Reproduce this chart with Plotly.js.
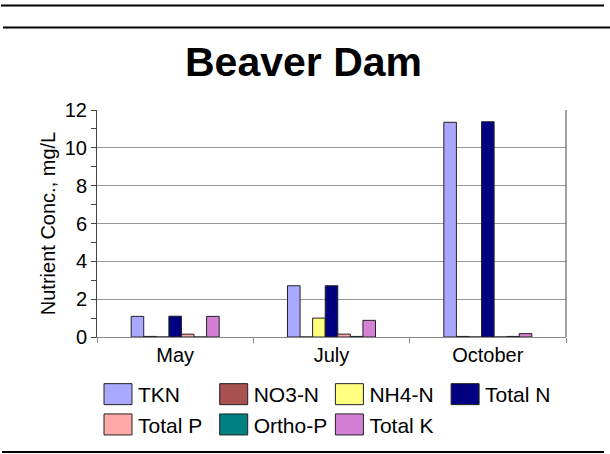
<!DOCTYPE html>
<html>
<head>
<meta charset="utf-8">
<script src="https://cdn.plot.ly/plotly-3.0.1.min.js"></script>
<style>
  html, body { margin: 0; padding: 0; background: #ffffff; }
  #chart { width: 610px; height: 454px; }
</style>
</head>
<body>
<div id="chart"></div>
<script>
// ---- data ----
const months = ["May", "July", "October"];
const seriesNames = ["TKN", "NO3-N", "NH4-N", "Total N", "Total P", "Ortho-P", "Total K"];
const TKN    = [1.09, 2.71, 11.35];
const NO3_N  = [0.03, 0.0, 0.03];
const NH4_N  = [0.0, 1.0, 0.0];
const TotalN = [1.1, 2.71, 11.38];
const TotalP = [0.15, 0.15, 0.0];
const OrthoP = [0.0, 0.03, 0.03];
const TotalK = [1.09, 0.88, 0.18];
const yTicks = [0, 2, 4, 6, 8, 10, 12];

// ---- styling ----
const seriesValues = [TKN, NO3_N, NH4_N, TotalN, TotalP, OrthoP, TotalK];
const seriesColors = ["#A8A8FF", "#A85252", "#FFFF80", "#000080", "#FFA8A8", "#008080", "#D480D4"];
const FONT = "Liberation Sans, Arial, Helvetica, sans-serif";

const W = 610, H = 454;
const M = { l: 97, r: 44, t: 110, b: 117, autoexpand: false };
const pw = W - M.l - M.r, ph = H - M.t - M.b;
const px2x = p => (p - M.l) / pw;
const px2y = p => (H - M.b - p) / ph;

const traces = seriesNames.map((name, i) => ({
  type: "bar",
  name: name,
  x: months,
  y: seriesValues[i],
  marker: { color: seriesColors[i], line: { color: "#222222", width: 1 } },
  hoverinfo: "skip"
}));

function hline(y, x0, x1) {
  return { type: "line", xref: "paper", yref: "paper",
           x0: px2x(x0), x1: px2x(x1), y0: px2y(y), y1: px2y(y),
           line: { color: "#000000", width: 2 } };
}

const layout = {
  width: W, height: H,
  margin: M,
  paper_bgcolor: "#ffffff",
  plot_bgcolor: "#ffffff",
  font: { family: FONT, color: "#000000", size: 20 },
  title: {
    text: "<b>Beaver Dam</b>",
    font: { family: FONT, size: 41, color: "#000000" },
    xref: "container", x: 303.5 / W, xanchor: "center",
    yref: "container", y: 1 - 62 / H, yanchor: "middle"
  },
  barmode: "group",
  bargap: 0.437,
  bargroupgap: 0,
  showlegend: true,
  legend: {
    orientation: "h",
    x: px2x(98), xanchor: "left",
    y: px2y(374), yanchor: "top",
    font: { family: FONT, size: 21, color: "#000000" },
    entrywidth: 70.7, entrywidthmode: "pixels",
    bgcolor: "rgba(0,0,0,0)", borderwidth: 0,
    traceorder: "normal"
  },
  xaxis: {
    type: "category",
    showgrid: false,
    showline: true, linecolor: "#888888", linewidth: 1,
    ticks: "outside", tickson: "boundaries", ticklen: 5, tickcolor: "#888888",
    tickfont: { family: FONT, size: 20, color: "#000000" },
    zeroline: false,
    fixedrange: true
  },
  yaxis: {
    range: [0, 12],
    tickvals: yTicks,
    ticktext: yTicks.map(String),
    showgrid: true, gridcolor: "#999999", gridwidth: 1,
    showline: true, linecolor: "#444444", linewidth: 1,
    ticks: "outside", ticklen: 5, tickcolor: "#444444",
    minor: { dtick: 1, ticks: "outside", ticklen: 5, tickcolor: "#444444", showgrid: false },
    tickfont: { family: FONT, size: 20, color: "#000000" },
    title: { text: "Nutrient Conc., mg/L", font: { family: FONT, size: 20, color: "#000000" }, standoff: 3 },
    zeroline: false,
    fixedrange: true
  },
  shapes: [
    { type: "line", xref: "paper", yref: "paper", x0: 1, x1: 1, y0: 0, y1: 1,
      line: { color: "#444444", width: 1 } },
    hline(5.5, 1, 604),
    hline(27.5, 3, 610),
    hline(452, 2, 604)
  ]
};

Plotly.newPlot("chart", traces, layout, { displayModeBar: false, staticPlot: true }).then(function () {
  // enlarge legend swatches to match the reference's big square keys
  document.querySelectorAll("#chart .legend .legendpoints path").forEach(function (p) {
    p.setAttribute("d", "M14,10.5H-14V-10.5H14Z");
  });
});
</script>
</body>
</html>
